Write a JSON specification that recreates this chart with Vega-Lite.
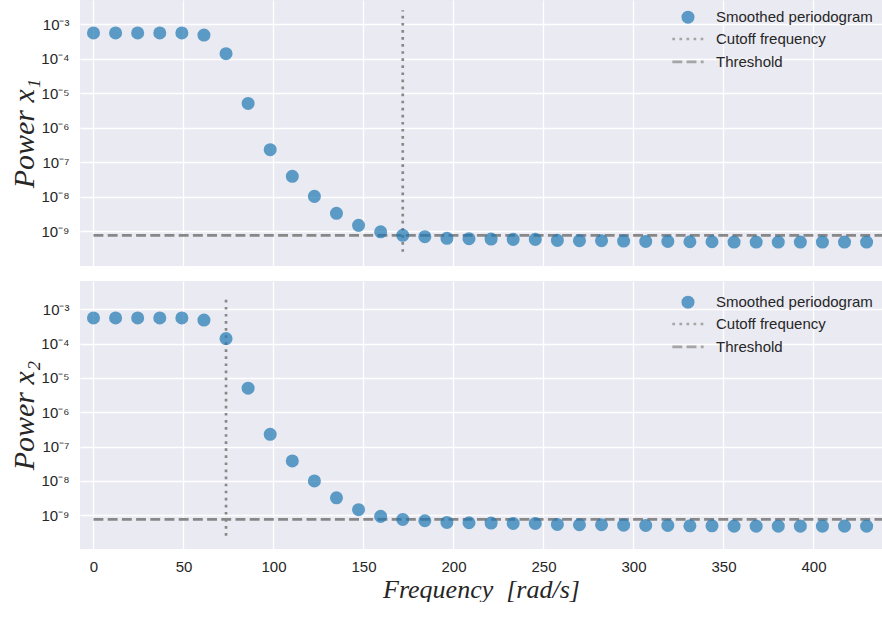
{
  "$schema": "https://vega.github.io/schema/vega-lite/v6.json",
  "padding": {"left": 9, "top": 0, "right": 0, "bottom": 0},
  "background": "white",
  "spacing": 15,
  "config": {
    "view": {"fill": "#EAEAF2", "stroke": null},
    "axis": {
      "domain": false, "ticks": false, "grid": true, "gridColor": "white", "gridWidth": 1.3,
      "labelFont": "Liberation Sans", "labelFontSize": 15, "labelColor": "#262626",
      "titleFont": "Liberation Serif", "titleFontStyle": "italic", "titleFontWeight": "normal",
      "titleColor": "#262626", "titleFontSize": 30
    },
    "legend": {
      "labelFont": "Liberation Sans", "labelFontSize": 15, "labelColor": "#262626", "labelLimit": 400,
      "padding": 0, "rowPadding": -3.2, "symbolSize": 170, "symbolStrokeColor": "#888888", "symbolStrokeWidth": 2.67
    }
  },
  "datasets": {
    "p1": [
      {"freq": 0.0, "power": 5.5e-4}, {"freq": 12.27, "power": 5.5e-4}, {"freq": 24.54, "power": 5.5e-4},
      {"freq": 36.82, "power": 5.5e-4}, {"freq": 49.09, "power": 5.5e-4}, {"freq": 61.36, "power": 4.8e-4},
      {"freq": 73.63, "power": 1.38e-4}, {"freq": 85.9, "power": 5.0e-6}, {"freq": 98.17, "power": 2.28e-7},
      {"freq": 110.45, "power": 3.85e-8}, {"freq": 122.72, "power": 1.01e-8}, {"freq": 134.99, "power": 3.26e-9},
      {"freq": 147.26, "power": 1.46e-9}, {"freq": 159.53, "power": 9.5e-10}, {"freq": 171.81, "power": 7.5e-10},
      {"freq": 184.08, "power": 6.86e-10}, {"freq": 196.35, "power": 6.14e-10}, {"freq": 208.62, "power": 6.0e-10},
      {"freq": 220.89, "power": 5.86e-10}, {"freq": 233.16, "power": 5.74e-10}, {"freq": 245.44, "power": 5.74e-10},
      {"freq": 257.71, "power": 5.37e-10}, {"freq": 269.98, "power": 5.24e-10}, {"freq": 282.25, "power": 5.24e-10},
      {"freq": 294.52, "power": 5.12e-10}, {"freq": 306.8, "power": 5.0e-10}, {"freq": 319.07, "power": 5.0e-10},
      {"freq": 331.34, "power": 4.89e-10}, {"freq": 343.61, "power": 4.89e-10}, {"freq": 355.88, "power": 4.78e-10},
      {"freq": 368.16, "power": 4.78e-10}, {"freq": 380.43, "power": 4.78e-10}, {"freq": 392.7, "power": 4.78e-10},
      {"freq": 404.97, "power": 4.78e-10}, {"freq": 417.24, "power": 4.78e-10}, {"freq": 429.51, "power": 4.78e-10}
    ],
    "p2": [
      {"freq": 0.0, "power": 5.6e-4}, {"freq": 12.27, "power": 5.6e-4}, {"freq": 24.54, "power": 5.6e-4},
      {"freq": 36.82, "power": 5.6e-4}, {"freq": 49.09, "power": 5.6e-4}, {"freq": 61.36, "power": 4.85e-4},
      {"freq": 73.63, "power": 1.4e-4}, {"freq": 85.9, "power": 5.0e-6}, {"freq": 98.17, "power": 2.27e-7},
      {"freq": 110.45, "power": 3.8e-8}, {"freq": 122.72, "power": 9.9e-9}, {"freq": 134.99, "power": 3.2e-9},
      {"freq": 147.26, "power": 1.44e-9}, {"freq": 159.53, "power": 9.2e-10}, {"freq": 171.81, "power": 7.5e-10},
      {"freq": 184.08, "power": 6.86e-10}, {"freq": 196.35, "power": 6.14e-10}, {"freq": 208.62, "power": 6.0e-10},
      {"freq": 220.89, "power": 5.86e-10}, {"freq": 233.16, "power": 5.74e-10}, {"freq": 245.44, "power": 5.74e-10},
      {"freq": 257.71, "power": 5.37e-10}, {"freq": 269.98, "power": 5.24e-10}, {"freq": 282.25, "power": 5.24e-10},
      {"freq": 294.52, "power": 5.12e-10}, {"freq": 306.8, "power": 5.0e-10}, {"freq": 319.07, "power": 5.0e-10},
      {"freq": 331.34, "power": 4.89e-10}, {"freq": 343.61, "power": 4.89e-10}, {"freq": 355.88, "power": 4.78e-10},
      {"freq": 368.16, "power": 4.78e-10}, {"freq": 380.43, "power": 4.78e-10}, {"freq": 392.7, "power": 4.78e-10},
      {"freq": 404.97, "power": 4.78e-10}, {"freq": 417.24, "power": 4.78e-10}, {"freq": 429.51, "power": 4.78e-10}
    ],
    "cut1": [{"f": 171.81, "lo": 2.5e-10, "hi": 2.5e-3}],
    "cut2": [{"f": 73.63, "lo": 2.5e-10, "hi": 2.5e-3}],
    "thr": [{"x0": 0, "x1": 438.06, "t": 7.5e-10}]
  },
  "resolve": {
    "scale": {"x": "independent", "y": "independent", "color": "independent", "shape": "independent", "strokeDash": "independent"},
    "legend": {"color": "independent", "shape": "independent", "strokeDash": "independent"}
  },
  "vconcat": [
    {
      "width": 802, "height": 266,
      "layer": [
        {
          "data": {"name": "thr"},
          "mark": {"type": "rule", "color": "#888888", "strokeWidth": 2.67, "strokeDash": [9.9, 4.3]},
          "encoding": {
            "x": {"field": "x0", "type": "quantitative", "scale": {"domain": [-7.5, 438.06], "nice": false, "zero": false}, "axis": {"title": null, "labels": false, "values": [0,50,100,150,200,250,300,350,400]}},
            "x2": {"field": "x1"},
            "y": {"field": "t", "type": "quantitative", "scale": {"type": "log", "domain": [9.7e-11, 4.97e-3], "nice": false}, "title": "Power x₁"}
          }
        },
        {
          "data": {"name": "cut1"},
          "mark": {"type": "rule", "color": "#888888", "strokeWidth": 2.67, "strokeDash": [2.67, 4.4]},
          "encoding": {
            "x": {"field": "f", "type": "quantitative"},
            "y": {"field": "lo", "type": "quantitative", "title": "Power x₁"},
            "y2": {"field": "hi"}
          }
        },
        {
          "data": {"name": "p1"},
          "transform": [{"calculate": "'Smoothed periodogram'", "as": "series"}],
          "mark": {"type": "point", "filled": true, "opacity": 0.7, "size": 170},
          "encoding": {
            "x": {"field": "freq", "type": "quantitative"},
            "y": {"field": "power", "type": "quantitative", "title": "Power x₁",
              "axis": {"values": [1e-9,1e-8,1e-7,1e-6,1e-5,1e-4,1e-3], "labelPadding": 11, "minExtent": 40, "maxExtent": 40, "titlePadding": 7, "titleBaseline": "alphabetic",
                "labelExpr": "'10⁻' + ['⁰','¹','²','³','⁴','⁵','⁶','⁷','⁸','⁹'][round(-log(datum.value)/LN10)]"}},
            "color": {"field": "series", "type": "nominal",
              "scale": {"domain": ["Smoothed periodogram", "Cutoff frequency", "Threshold"], "range": ["#1f77b4", "#888888", "#888888"]},
              "legend": {"title": null, "orient": "none", "legendX": 600, "legendY": 9.2, "labelOffset": 20,
                "encode": {"symbols": {"update": {"opacity": {"signal": "datum.value === 'Smoothed periodogram' ? 0.7 : 1"}}}}}},
            "shape": {"field": "series", "type": "nominal",
              "scale": {"domain": ["Smoothed periodogram", "Cutoff frequency", "Threshold"], "range": ["circle", "M0,-1.13M-2.4,0H2.4M0,1.13", "M0,-1.13M-2.4,0H2.4M0,1.13"]},
              "legend": {"title": null, "orient": "none", "legendX": 600, "legendY": 9.2, "labelOffset": 20}},
            "strokeDash": {"field": "series", "type": "nominal",
              "scale": {"domain": ["Smoothed periodogram", "Cutoff frequency", "Threshold"], "range": [[0, 100], [2.67, 4.4], [9.9, 4.3]]},
              "legend": {"title": null, "orient": "none", "legendX": 600, "legendY": 9.2, "labelOffset": 20}}
          }
        }
      ]
    },
    {
      "width": 802, "height": 268,
      "layer": [
        {
          "data": {"name": "thr"},
          "mark": {"type": "rule", "color": "#888888", "strokeWidth": 2.67, "strokeDash": [9.9, 4.3]},
          "encoding": {
            "x": {"field": "x0", "type": "quantitative", "scale": {"domain": [-7.5, 438.06], "nice": false, "zero": false},
              "title": "Frequency\u2002[rad/s]",
              "axis": {"values": [0,50,100,150,200,250,300,350,400], "labelPadding": 10, "minExtent": 30, "maxExtent": 30, "titlePadding": 18, "titleBaseline": "alphabetic", "titleFontSize": 26}},
            "x2": {"field": "x1"},
            "y": {"field": "t", "type": "quantitative", "scale": {"type": "log", "domain": [1.03e-10, 6.68e-3], "nice": false}, "title": "Power x₂"}
          }
        },
        {
          "data": {"name": "cut2"},
          "mark": {"type": "rule", "color": "#888888", "strokeWidth": 2.67, "strokeDash": [2.67, 4.4]},
          "encoding": {
            "x": {"field": "f", "type": "quantitative", "title": "Frequency\u2002[rad/s]"},
            "y": {"field": "lo", "type": "quantitative", "title": "Power x₂"},
            "y2": {"field": "hi"}
          }
        },
        {
          "data": {"name": "p2"},
          "transform": [{"calculate": "'Smoothed periodogram'", "as": "series"}],
          "mark": {"type": "point", "filled": true, "opacity": 0.7, "size": 170},
          "encoding": {
            "x": {"field": "freq", "type": "quantitative", "title": "Frequency\u2002[rad/s]"},
            "y": {"field": "power", "type": "quantitative", "title": "Power x₂",
              "axis": {"values": [1e-9,1e-8,1e-7,1e-6,1e-5,1e-4,1e-3], "labelPadding": 11, "minExtent": 40, "maxExtent": 40, "titlePadding": 7, "titleBaseline": "alphabetic",
                "labelExpr": "'10⁻' + ['⁰','¹','²','³','⁴','⁵','⁶','⁷','⁸','⁹'][round(-log(datum.value)/LN10)]"}},
            "color": {"field": "series", "type": "nominal",
              "scale": {"domain": ["Smoothed periodogram", "Cutoff frequency", "Threshold"], "range": ["#1f77b4", "#888888", "#888888"]},
              "legend": {"title": null, "orient": "none", "legendX": 600, "legendY": 13.2, "labelOffset": 20,
                "encode": {"symbols": {"update": {"opacity": {"signal": "datum.value === 'Smoothed periodogram' ? 0.7 : 1"}}}}}},
            "shape": {"field": "series", "type": "nominal",
              "scale": {"domain": ["Smoothed periodogram", "Cutoff frequency", "Threshold"], "range": ["circle", "M0,-1.13M-2.4,0H2.4M0,1.13", "M0,-1.13M-2.4,0H2.4M0,1.13"]},
              "legend": {"title": null, "orient": "none", "legendX": 600, "legendY": 13.2, "labelOffset": 20}},
            "strokeDash": {"field": "series", "type": "nominal",
              "scale": {"domain": ["Smoothed periodogram", "Cutoff frequency", "Threshold"], "range": [[0, 100], [2.67, 4.4], [9.9, 4.3]]},
              "legend": {"title": null, "orient": "none", "legendX": 600, "legendY": 13.2, "labelOffset": 20}}
          }
        }
      ]
    }
  ]
}
